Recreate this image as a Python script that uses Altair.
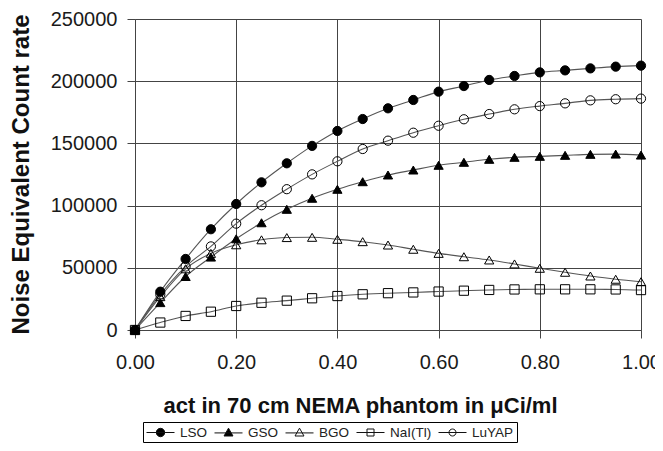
import altair as alt
import pandas as pd

# activity concentration (uCi/ml)
act = [0.00, 0.05, 0.10, 0.15, 0.20, 0.25, 0.30, 0.35, 0.40, 0.45, 0.50,
       0.55, 0.60, 0.65, 0.70, 0.75, 0.80, 0.85, 0.90, 0.95, 1.00]

lso = [0, 30800, 57100, 81000, 101300, 118700, 134000, 148000, 160000, 169600, 178200,
       184900, 191600, 196100, 201000, 204200, 207100, 208700, 210300, 211700, 212500]
gso = [0, 22000, 43000, 58600, 73300, 86200, 97000, 105900, 113100, 119200, 124600,
       128600, 132400, 134800, 137200, 138800, 139600, 140400, 141200, 141400, 140600]
bgo = [0, 26800, 49200, 61600, 68500, 72500, 74300, 74500, 72900, 71000, 68300,
       64900, 61600, 58900, 56300, 53100, 49600, 46400, 43400, 40800, 38800]
nai = [0, 6000, 11300, 14700, 19300, 21900, 23600, 25500, 27300, 28700, 29600,
       30200, 30900, 31600, 32200, 32600, 32700, 32700, 32700, 32600, 32100]
luyap = [0, 28600, 51000, 67200, 85500, 100300, 113200, 125100, 135600, 145500, 152200,
         158600, 164200, 169400, 173600, 177400, 180000, 182200, 184600, 185500, 186000]

series_names = ["LSO", "GSO", "BGO", "NaI(Tl)", "LuYAP"]
series_values = [lso, gso, bgo, nai, luyap]
marker_shapes = ["circle", "triangle-up", "triangle-up", "square", "circle"]
marker_fills = ["black", "black", "transparent", "transparent", "transparent"]
key_strokes = ["#111111", "#111111", "#111111", "#111111", "#111111"]
# legend keys "—marker—": line through the marker, drawn right of the symbol anchor
legend_paths = [
    "M-1,0H3M0.4,0A0.6,0.6,0,1,1,1.6,0A0.6,0.6,0,1,1,0.4,0Z",
    "M-1,0.06H3M1,-0.62L1.64,0.5L0.36,0.5Z",
    "M-1,0.06H3M1,-0.62L1.64,0.5L0.36,0.5Z",
    "M-1,0H3M0.5,-0.5H1.5V0.5H0.5Z",
    "M-1,0H3M0.5,0A0.5,0.5,0,1,1,1.5,0A0.5,0.5,0,1,1,0.5,0Z",
]
x_ticks = [0.0, 0.2, 0.4, 0.6, 0.8, 1.0]
y_ticks = [0, 50000, 100000, 150000, 200000, 250000]

rows = []
for name, vals in zip(series_names, series_values):
    for a, v in zip(act, vals):
        rows.append({"act": a, "nec": v, "series": name, "entry": name})
df = pd.DataFrame(rows)

FONT = "Liberation Sans"
GRID = "#444444"

x_enc = alt.X(
    "act:Q",
    scale=alt.Scale(domain=[0, 1], nice=False, zero=False),
    axis=alt.Axis(
        values=x_ticks, format=".2f", grid=True, gridColor=GRID, gridWidth=1,
        domainColor=GRID, tickColor=GRID, tickSize=8, labelFlush=False,
        labelFont=FONT, labelFontSize=20, labelColor="#1a1a1a", labelPadding=14,
        title="act in 70 cm NEMA phantom in \u03bcCi/ml",
        titleFont=FONT, titleFontSize=22, titleFontWeight="bold", titleColor="#111",
        titleAlign="left", titleX=28, titleY=75, titleBaseline="middle",
    ),
)
y_enc = alt.Y(
    "nec:Q",
    scale=alt.Scale(domain=[0, 250000], nice=False),
    axis=alt.Axis(
        values=y_ticks, format="d", grid=True, gridColor=GRID, gridWidth=1,
        domainColor=GRID, tickColor=GRID, tickSize=8,
        labelFont=FONT, labelFontSize=20, labelColor="#1a1a1a", labelPadding=10,
        title="Noise Equivalent Count rate",
        titleFont=FONT, titleFontSize=24, titleFontWeight="bold", titleColor="#111",
        titleAlign="center", titleX=-114, titleY=155, titleBaseline="middle", titleAngle=270,
    ),
)

lines = alt.Chart(df).mark_line(
    interpolate="monotone", color="#555555", strokeWidth=1.1
).encode(x=x_enc, y=y_enc, detail="series:N")

points = alt.Chart(df).mark_point(
    filled=True, size=85, stroke="black", strokeWidth=1, opacity=1
).encode(
    x=x_enc,
    y=y_enc,
    shape=alt.Shape("series:N", scale=alt.Scale(domain=series_names, range=marker_shapes), legend=None),
    fill=alt.Fill("series:N", scale=alt.Scale(domain=series_names, range=marker_fills), legend=None),
)

leg = alt.Legend(
    title=None, orient="none", legendX=8, legendY=403, direction="horizontal", columns=5,
    symbolSize=196, symbolStrokeWidth=1, symbolStrokeColor="black", symbolOpacity=1,
    labelFont=FONT, labelFontSize=13.5, labelColor="#222", labelOffset=19,
    columnPadding=4, padding=3, strokeColor="black", fillColor="white",
)

key = alt.Chart(df).transform_filter("false").mark_point(
    filled=False, color="black", strokeWidth=1, opacity=1
).encode(
    shape=alt.Shape("entry:N", scale=alt.Scale(domain=series_names, range=legend_paths), legend=leg),
    fill=alt.Fill("entry:N", scale=alt.Scale(domain=series_names, range=marker_fills), legend=leg),
    stroke=alt.Stroke("entry:N", scale=alt.Scale(domain=series_names, range=key_strokes), legend=leg),
)

chart = alt.layer(lines, points, key).resolve_scale(
    shape="independent", fill="independent", stroke="independent"
).properties(
    width=506, height=311,
    autosize=alt.AutoSizeParams(type="none"),
    padding={"left": 127, "top": 11, "right": 14, "bottom": 113},
).configure_view(strokeWidth=0).configure_legend(strokeWidth=1)

chart.save("out.html", embed_options={"renderer": "svg", "actions": False})
